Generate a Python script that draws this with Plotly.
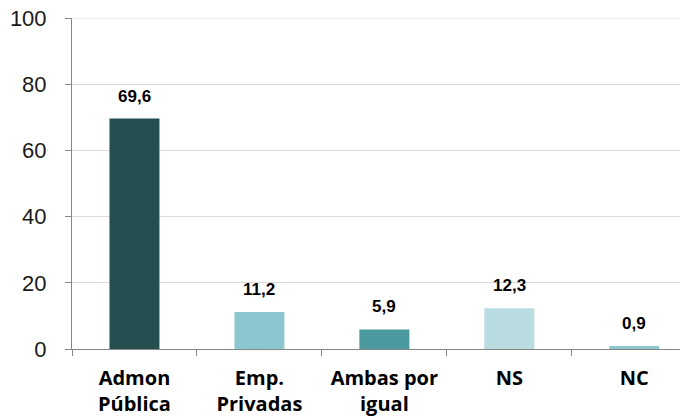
import plotly.graph_objects as go

categories = ['Admon<br>Pública', 'Emp.<br>Privadas', 'Ambas por<br>igual', 'NS', 'NC']
values = [69.6, 11.2, 5.9, 12.3, 0.9]
value_labels = ['69,6', '11,2', '5,9', '12,3', '0,9']
bar_colors = ['#254E50', '#8CC6CE', '#4A999F', '#B8DCE0', '#8CC6CE']
y_ticks = [0, 20, 40, 60, 80, 100]

fig = go.Figure()

fig.add_trace(
    go.Bar(
        x=categories,
        y=values,
        marker=dict(color=bar_colors, line=dict(width=0)),
        width=0.4,
        hoverinfo='skip',
    ),
)

for cat, val, lab in zip(categories, values, value_labels):
    fig.add_annotation(
        x=cat,
        y=val,
        text=f'<b>{lab}</b>',
        showarrow=False,
        yanchor='bottom',
        yshift=11,
        font=dict(family='Liberation Sans', size=17, color='#000000'),
    )

# plotly drops the gridline at the top edge, draw it by hand
fig.add_shape(
    type='line',
    xref='paper',
    yref='y',
    x0=0,
    x1=1,
    y0=y_ticks[-1],
    y1=y_ticks[-1],
    line=dict(color='#D9D9D9', width=1),
    layer='below',
)

# page body adds an 8px offset, so the figure is a bit smaller than the window
fig.update_layout(
    width=680,
    height=412,
    margin=dict(l=64, r=0, t=10, b=71),
    paper_bgcolor='white',
    plot_bgcolor='white',
    showlegend=False,
    xaxis=dict(
        range=[-0.5, 4.43],
        automargin=False,
        showline=True,
        linecolor='#868686',
        linewidth=1,
        ticks='outside',
        tickson='boundaries',
        ticklen=6,
        tickcolor='#868686',
        showgrid=False,
        tickfont=dict(family='Open Sans', size=20, color='#000000'),
        ticklabelstandoff=11,
    ),
    yaxis=dict(
        range=[0, 100],
        automargin=False,
        tickvals=y_ticks,
        ticklabeloverflow='allow',
        showline=True,
        linecolor='#868686',
        linewidth=1,
        ticks='outside',
        ticklen=6,
        tickcolor='#868686',
        showgrid=True,
        gridcolor='#D9D9D9',
        gridwidth=1,
        zeroline=False,
        tickfont=dict(family='Liberation Sans', size=22, color='#1A1A1A'),
        ticklabelstandoff=14,
    ),
)

fig.update_xaxes(tickprefix='<b>', ticksuffix='</b>')

fig.write_html('out.html')
